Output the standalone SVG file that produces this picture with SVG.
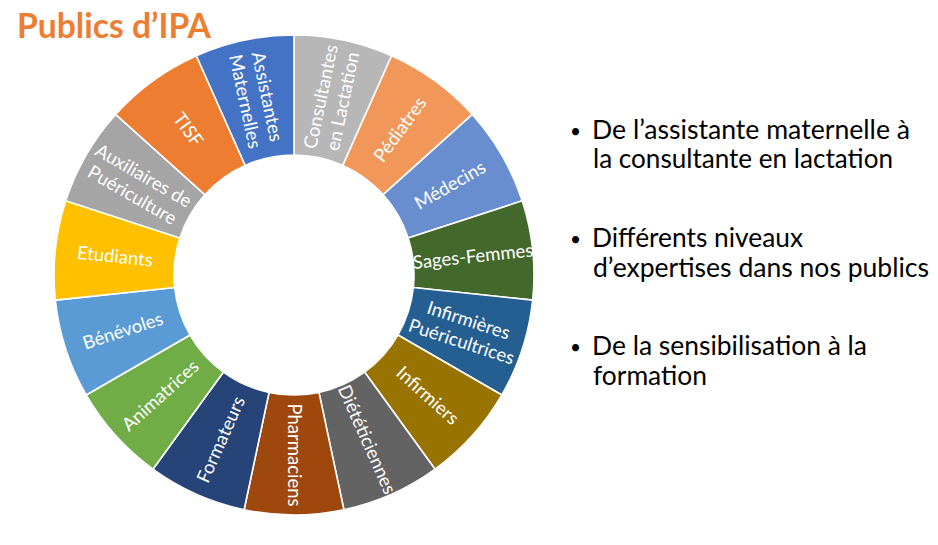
<svg xmlns="http://www.w3.org/2000/svg" width="938" height="545" viewBox="0 0 938 545">
<style>
  .seg { stroke: #ffffff; stroke-width: 1.6; stroke-linejoin: round; }
  .lbl { font-family: Lato, "Liberation Sans", sans-serif; font-size: 18.5px; fill: #ffffff; text-anchor: middle; }
  .title { font-family: Lato, "Liberation Sans", sans-serif; font-size: 34px; font-weight: bold; fill: #ED7D31; }
  .bul { font-family: Lato, "Liberation Sans", sans-serif; font-size: 26.5px; fill: #000000; }
  .dot { font-family: Lato, "Liberation Sans", sans-serif; font-size: 19px; fill: #000000; text-anchor: middle; }
</style>
<rect x="0" y="0" width="938" height="545" fill="#ffffff"/>

<text class="title" x="17" y="38" textLength="194" lengthAdjust="spacingAndGlyphs">Publics d’IPA</text>

<g id="chart">
  <g id="node-consultantes">
    <path class="seg" fill="#B7B7B7" d="M294,35 A240,240 0 0 1 391.62,55.75 L342.81,165.37 A120,120 0 0 0 294,155 Z"/>
    <text class="lbl" transform="translate(331.42,98.93) rotate(-78)"><tspan x="0" y="-4.5">Consultantes</tspan><tspan x="0" y="18">en Lactation</tspan></text>
  </g>
  <g id="node-pediatres">
    <path class="seg" fill="#F1975A" d="M391.62,55.75 A240,240 0 0 1 472.35,114.41 L383.18,194.70 A120,120 0 0 0 342.81,165.37 Z"/>
    <text class="lbl" transform="translate(399.80,129.38) rotate(-54)" x="0" y="6.5">Pédiatres</text>
  </g>
  <g id="node-medecins">
    <path class="seg" fill="#698ED0" d="M472.35,114.41 A240,240 0 0 1 522.25,200.84 L408.13,237.92 A120,120 0 0 0 383.18,194.70 Z"/>
    <text class="lbl" transform="translate(449.89,185) rotate(-30)" x="0" y="6.5">Médecins</text>
  </g>
  <g id="node-sages-femmes">
    <path class="seg" fill="#43682B" d="M522.25,200.84 A240,240 0 0 1 532.68,300.09 L413.34,287.54 A120,120 0 0 0 408.13,237.92 Z"/>
    <text class="lbl" transform="translate(473.01,256.18) rotate(-6)" x="0" y="6.5">Sages-Femmes</text>
  </g>
  <g id="node-infirmieres-puericultrices">
    <path class="seg" fill="#255E91" d="M532.68,300.09 A240,240 0 0 1 501.85,395 L397.92,335 A120,120 0 0 0 413.34,287.54 Z"/>
    <text class="lbl" transform="translate(465.19,330.62) rotate(18)"><tspan x="0" y="-4.5">Infirmières</tspan><tspan x="0" y="18">Puéricultrices</tspan></text>
  </g>
  <g id="node-infirmiers">
    <path class="seg" fill="#997300" d="M501.85,395 A240,240 0 0 1 435.07,469.16 L364.53,372.08 A120,120 0 0 0 397.92,335 Z"/>
    <text class="lbl" transform="translate(427.77,395.44) rotate(42)" x="0" y="6.5">Infirmiers</text>
  </g>
  <g id="node-dieteticiennes">
    <path class="seg" fill="#636363" d="M435.07,469.16 A240,240 0 0 1 343.90,509.76 L318.95,392.38 A120,120 0 0 0 364.53,372.08 Z"/>
    <text class="lbl" transform="translate(367.21,439.44) rotate(66)" x="0" y="6.5">Diététiciennes</text>
  </g>
  <g id="node-pharmaciens">
    <path class="seg" fill="#9E480E" d="M343.90,509.76 A240,240 0 0 1 244.10,509.76 L269.05,392.38 A120,120 0 0 0 318.95,392.38 Z"/>
    <text class="lbl" transform="translate(294,455) rotate(90)" x="0" y="6.5">Pharmaciens</text>
  </g>
  <g id="node-formateurs">
    <path class="seg" fill="#264478" d="M244.10,509.76 A240,240 0 0 1 152.93,469.16 L223.47,372.08 A120,120 0 0 0 269.05,392.38 Z"/>
    <text class="lbl" transform="translate(220.79,439.44) rotate(-66)" x="0" y="6.5">Formateurs</text>
  </g>
  <g id="node-animatrices">
    <path class="seg" fill="#70AD47" d="M152.93,469.16 A240,240 0 0 1 86.15,395 L190.08,335 A120,120 0 0 0 223.47,372.08 Z"/>
    <text class="lbl" transform="translate(160.23,395.44) rotate(-42)" x="0" y="6.5">Animatrices</text>
  </g>
  <g id="node-benevoles">
    <path class="seg" fill="#5B9BD5" d="M86.15,395 A240,240 0 0 1 55.32,300.09 L174.66,287.54 A120,120 0 0 0 190.08,335 Z"/>
    <text class="lbl" transform="translate(122.81,330.62) rotate(-18)" x="0" y="6.5">Bénévoles</text>
  </g>
  <g id="node-etudiants">
    <path class="seg" fill="#FFC000" d="M55.32,300.09 A240,240 0 0 1 65.75,200.84 L179.87,237.92 A120,120 0 0 0 174.66,287.54 Z"/>
    <text class="lbl" transform="translate(114.99,256.18) rotate(6)" x="0" y="6.5">Etudiants</text>
  </g>
  <g id="node-auxiliaires">
    <path class="seg" fill="#A5A5A5" d="M65.75,200.84 A240,240 0 0 1 115.65,114.41 L204.82,194.70 A120,120 0 0 0 179.87,237.92 Z"/>
    <text class="lbl" transform="translate(138.11,185) rotate(30)"><tspan x="0" y="-4.5">Auxiliaires de</tspan><tspan x="0" y="18">Puériculture</tspan></text>
  </g>
  <g id="node-tisf">
    <path class="seg" fill="#ED7D31" d="M115.65,114.41 A240,240 0 0 1 196.38,55.75 L245.19,165.37 A120,120 0 0 0 204.82,194.70 Z"/>
    <text class="lbl" transform="translate(188.20,129.38) rotate(54)" x="0" y="6.5">TISF</text>
  </g>
  <g id="node-assistantes">
    <path class="seg" fill="#4472C4" d="M196.38,55.75 A240,240 0 0 1 294,35 L294,155 A120,120 0 0 0 245.19,165.37 Z"/>
    <text class="lbl" transform="translate(256.58,98.93) rotate(78)"><tspan x="0" y="-4.5">Assistantes</tspan><tspan x="0" y="18">Maternelles</tspan></text>
  </g>
</g>

<g id="connectors"></g>

<g id="bullets">
  <text class="dot" x="575.5" y="137.5">•</text>
  <text class="bul" x="592" y="139" textLength="318" lengthAdjust="spacingAndGlyphs">De l’assistante maternelle à</text>
  <text class="bul" x="593" y="168" textLength="300" lengthAdjust="spacingAndGlyphs">la consultante en lactation</text>

  <text class="dot" x="575.5" y="245.5">•</text>
  <text class="bul" x="592" y="247" textLength="211" lengthAdjust="spacingAndGlyphs">Différents niveaux</text>
  <text class="bul" x="593" y="277" textLength="336" lengthAdjust="spacingAndGlyphs">d’expertises dans nos publics</text>

  <text class="dot" x="575.5" y="353.5">•</text>
  <text class="bul" x="592" y="355" textLength="275" lengthAdjust="spacingAndGlyphs">De la sensibilisation à la</text>
  <text class="bul" x="593" y="385" textLength="114" lengthAdjust="spacingAndGlyphs">formation</text>
</g>
</svg>
